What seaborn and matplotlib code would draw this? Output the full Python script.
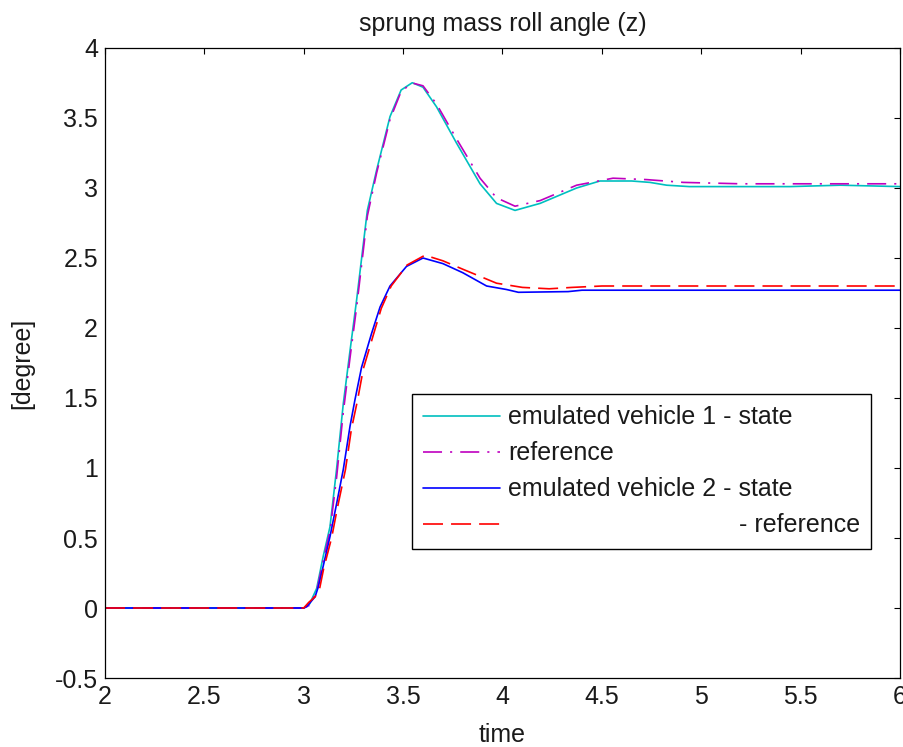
import matplotlib
matplotlib.use("Agg")
import matplotlib.pyplot as plt
import seaborn as sns
import pandas as pd

# ---- data ----
t_v1 = [2.0, 3.0, 3.03, 3.065, 3.098, 3.132, 3.165, 3.199, 3.233, 3.266, 3.32, 3.367,
        3.434, 3.49, 3.546, 3.60, 3.668, 3.769, 3.887, 3.97, 4.063, 4.189, 4.373,
        4.49, 4.65, 4.742, 4.826, 4.94, 5.2, 5.446, 5.7, 6.0]
y_v1 = [0.0, 0.0, 0.03, 0.14, 0.37, 0.58, 0.99, 1.46, 1.84, 2.2, 2.84, 3.13,
        3.51, 3.70, 3.752, 3.72, 3.58, 3.32, 3.03, 2.89, 2.84, 2.89, 3.0,
        3.05, 3.05, 3.04, 3.02, 3.01, 3.01, 3.01, 3.02, 3.01]

t_r1 = [2.0, 3.0, 3.03, 3.065, 3.098, 3.132, 3.165, 3.199, 3.233, 3.266, 3.32, 3.367,
        3.434, 3.49, 3.546, 3.60, 3.668, 3.769, 3.887, 3.97, 4.063, 4.189, 4.373,
        4.556, 4.725, 4.91, 5.2, 5.6, 6.0]
y_r1 = [0.0, 0.0, 0.02, 0.12, 0.34, 0.55, 0.93, 1.40, 1.79, 2.15, 2.80, 3.11,
        3.49, 3.69, 3.75, 3.73, 3.60, 3.35, 3.07, 2.93, 2.87, 2.91, 3.02,
        3.07, 3.06, 3.04, 3.03, 3.03, 3.03]

t_v2 = [2.0, 3.0, 3.015, 3.057, 3.073, 3.098, 3.132, 3.166, 3.199, 3.233, 3.258, 3.291,
        3.341, 3.384, 3.434, 3.517, 3.60, 3.70, 3.80, 3.92, 4.02, 4.08, 4.33, 4.4, 5.0, 6.0]
y_v2 = [0.0, 0.0, 0.01, 0.08, 0.15, 0.30, 0.51, 0.75, 0.99, 1.30, 1.49, 1.72,
        1.96, 2.15, 2.30, 2.44, 2.50, 2.46, 2.395, 2.30, 2.275, 2.255, 2.26, 2.27, 2.27, 2.27]

t_r2 = [2.0, 3.0, 3.025, 3.057, 3.08, 3.10, 3.14, 3.17, 3.21, 3.24, 3.27, 3.30,
        3.35, 3.39, 3.44, 3.52, 3.61, 3.70, 3.80, 3.97, 4.10, 4.235, 4.35, 4.5, 6.0]
y_r2 = [0.0, 0.0, 0.04, 0.08, 0.14, 0.28, 0.50, 0.72, 0.99, 1.28, 1.48, 1.71,
        1.95, 2.14, 2.30, 2.45, 2.52, 2.48, 2.42, 2.32, 2.29, 2.28, 2.29, 2.30, 2.30]

labels = ["emulated vehicle 1 - state", "reference",
          "emulated vehicle 2 - state", " " * 33 + "- reference"]
title = "sprung mass roll angle (z)"
xlabel = "time"
ylabel = "[degree]"
xticks = [2, 2.5, 3, 3.5, 4, 4.5, 5, 5.5, 6]
yticks = [-0.5, 0, 0.5, 1, 1.5, 2, 2.5, 3, 3.5, 4]

# ---- style ----
sns.set_style("white")
plt.rcParams["font.family"] = ["Liberation Sans", "DejaVu Sans"]
plt.rcParams["lines.scale_dashes"] = False
plt.rcParams["xtick.direction"] = "in"
plt.rcParams["ytick.direction"] = "in"
plt.rcParams["xtick.top"] = True
plt.rcParams["ytick.right"] = True

FS = 18
TXT = "#1a1a1a"
fig = plt.figure(figsize=(9.04, 7.47), dpi=100)
ax = fig.add_axes([105 / 904, 1 - 678 / 747, (900 - 105) / 904, (678 - 48) / 747])

series = [
    (t_v1, y_v1, (0, 0.75, 0.75), "-"),
    (t_r1, y_r1, (0.75, 0, 0.75), (0, (13.7, 5.8, 1.5, 5.8))),
    (t_v2, y_v2, (0, 0, 1), "-"),
    (t_r2, y_r2, (1, 0, 0), (0, (14.4, 5.8))),
]
for (t, y, c, ls), lab in zip(series, labels):
    df = pd.DataFrame({"t": t, "y": y})
    sns.lineplot(data=df, x="t", y="y", ax=ax, color=c, linestyle=ls,
                 linewidth=1.2, label=lab, estimator=None)

ax.set_xlim(2, 6)
ax.set_ylim(-0.5, 4)
ax.set_xticks(xticks)
ax.set_xticklabels([f"{v:g}" for v in xticks])
ax.set_yticks(yticks)
ax.set_yticklabels([f"{v:g}" for v in yticks])
ax.tick_params(axis="both", which="major", labelsize=FS, length=4, width=0.8,
               color="black", pad=5, labelcolor=TXT)
for s in ax.spines.values():
    s.set_visible(True)
    s.set_color("black")
    s.set_linewidth(0.9)

ax.set_title(title, fontsize=FS, pad=12, color=TXT)
ax.set_xlabel(xlabel, fontsize=FS, labelpad=10, color=TXT)
ax.set_ylabel(ylabel, fontsize=FS, labelpad=15, color=TXT)

leg = ax.legend(loc="upper left", bbox_to_anchor=(411.7 / 904, 1 - 394 / 747),
                bbox_transform=fig.transFigure, fontsize=FS, frameon=True,
                fancybox=False, shadow=False, framealpha=1, edgecolor="black",
                borderaxespad=0, borderpad=0.45, labelspacing=0.48,
                handlelength=3.1, handletextpad=0.3)
leg.get_frame().set_linewidth(1.0)
for txt in leg.get_texts():
    txt.set_color(TXT)

fig.savefig("out.png", dpi=100, facecolor="white")
